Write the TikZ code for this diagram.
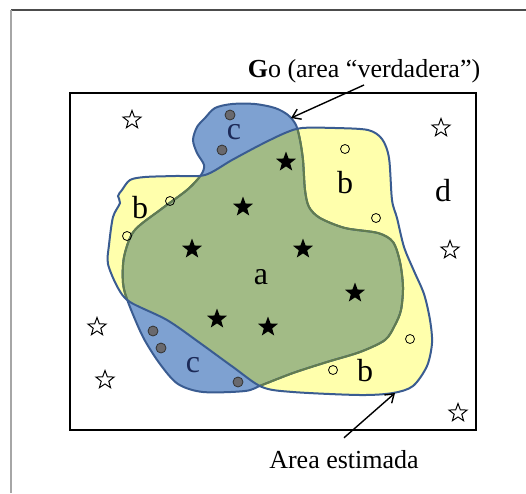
\documentclass[tikz,border=0pt]{standalone}
\usepackage{fontspec}
\setmainfont{Liberation Serif}
\usetikzlibrary{shapes.geometric,arrows.meta}

\definecolor{truefill}{RGB}{126,161,209}
\definecolor{estfill}{RGB}{255,255,172}
\definecolor{bothfill}{RGB}{162,187,134}
\definecolor{rimblue}{RGB}{58,92,145}
\definecolor{rimgreen}{RGB}{98,124,78}
\definecolor{dotgray}{RGB}{105,105,110}
\definecolor{navy}{RGB}{28,42,88}

\begin{document}
\begin{tikzpicture}[x=1pt, y=-1pt,
  fstar/.style={star, star points=5, star point ratio=2.4, fill=black, inner sep=0pt, minimum size=21pt},
  ostar/.style={star, star points=5, star point ratio=2.4, draw=black, fill=white, line width=1pt, inner sep=0pt, minimum size=19pt},
  odot/.style={circle, draw=black, line width=0.8pt, inner sep=0pt, minimum size=9pt},
  gdot/.style={circle, draw=black!80, fill=dotgray, line width=0.8pt, inner sep=0pt, minimum size=10pt},
  lbl/.style={font=\fontsize{32}{36}\selectfont, inner sep=0pt},
  tag/.style={font=\fontsize{26}{30}\selectfont, inner sep=2pt},
  rim/.style={line width=2pt},
  pointer/.style={line width=1.4pt, -{Straight Barb[length=8pt, width=11pt]}}]
  \useasboundingbox (0,0) rectangle (526,493);

  % page frame
  \draw[black!70, line width=1.5pt] (11,10) -- (526,10);
  \draw[black!35, line width=2pt] (11,10) -- (11,493);

  % true area and estimated area outlines
  \path[save path=\truepath] plot[smooth cycle, tension=0.5] coordinates {
    (205,118) (215,108) (232,104) (255,104) (275,108) (288,115) (296,125)
    (300,140) (303,160) (305,190) (309,207) (320,218) (345,228) (378,233)
    (393,242) (400,262) (403,287) (401,310) (395,325) (385,340) (360,352)
    (327,362) (293,373) (262,385) (245,391) (203,392) (178,384) (160,364)
    (143,337) (128,302) (123,283) (124,257) (134,231) (160,210) (187,190)
    (201,175) (204,165) (197,153) (193,140) (197,127)};
  \path[save path=\estpath] plot[smooth cycle, tension=0.5] coordinates {
    (122,190) (130,180) (145,177) (175,176) (205,175) (232,160) (260,145)
    (285,133) (302,128) (335,128) (368,130) (382,139) (389,158) (392,200)
    (397,218) (404,247) (414,271) (424,294) (430,320) (432,343) (427,366)
    (413,386) (393,393) (360,395) (293,392) (262,387) (233,367) (200,343)
    (167,320) (130,302) (118,288) (108,264) (109,245) (113,217) (120,203)
    (118,196)};

  \path[use path=\truepath, fill=truefill];
  \path[use path=\estpath, fill=estfill];
  \begin{scope}
    \clip[use path=\estpath];
    \path[use path=\truepath, fill=bothfill];
  \end{scope}
  \path[use path=\truepath, draw=rimblue, rim];
  \begin{scope}
    \clip[use path=\estpath];
    \path[use path=\truepath, draw=rimgreen, rim];
  \end{scope}
  \path[use path=\estpath, draw=rimblue, rim];

  % outer box
  \draw[line width=2.8pt] (70,93) rectangle (476,430);

  % filled stars
  \node[fstar] (fs1) at (286,162) {};
  \node[fstar] (fs2) at (243,207) {};
  \node[fstar] (fs3) at (192,249) {};
  \node[fstar] (fs4) at (303,249) {};
  \node[fstar] (fs5) at (355,293) {};
  \node[fstar] (fs6) at (217,319) {};
  \node[fstar] (fs7) at (268,327) {};

  % open stars
  \node[ostar] (os1) at (132,120) {};
  \node[ostar] (os2) at (441,128) {};
  \node[ostar] (os3) at (450,250) {};
  \node[ostar] (os4) at (97,327) {};
  \node[ostar] (os5) at (105,380) {};
  \node[ostar] (os6) at (458,413) {};

  % open dots
  \node[odot] (od1) at (345,149) {};
  \node[odot] (od2) at (170,201) {};
  \node[odot] (od3) at (127,236) {};
  \node[odot] (od4) at (376,218) {};
  \node[odot] (od5) at (410,339) {};
  \node[odot] (od6) at (333,370) {};

  % gray dots
  \node[gdot] (gd1) at (230,115) {};
  \node[gdot] (gd2) at (222,150) {};
  \node[gdot] (gd3) at (153,331) {};
  \node[gdot] (gd4) at (161,348) {};
  \node[gdot] (gd5) at (238,382) {};

  % region letters
  \node[lbl] (la) at (261,277) {a};
  \node[lbl] (lb1) at (140,208) {b};
  \node[lbl] (lb2) at (345,183) {b};
  \node[lbl] (lb3) at (365,371) {b};
  \node[lbl, text=navy] (lc1) at (234,132) {c};
  \node[lbl, text=navy] (lc2) at (193,365) {c};
  \node[lbl] (ld) at (443,191) {d};

  % captions with pointers
  \node[tag] (go) at (364,71) {\textbf{G}o (area ``verdadera'')};
  \node[tag, anchor=base] (est) at (344,468) {Area estimada};
  \coordinate (gotip) at (291,118);
  \coordinate (esttip) at (395,393);
  \draw[pointer] (go.south) -- (gotip);
  \draw[pointer] ([yshift=10pt]est.north) -- (esttip);
\end{tikzpicture}
\end{document}
